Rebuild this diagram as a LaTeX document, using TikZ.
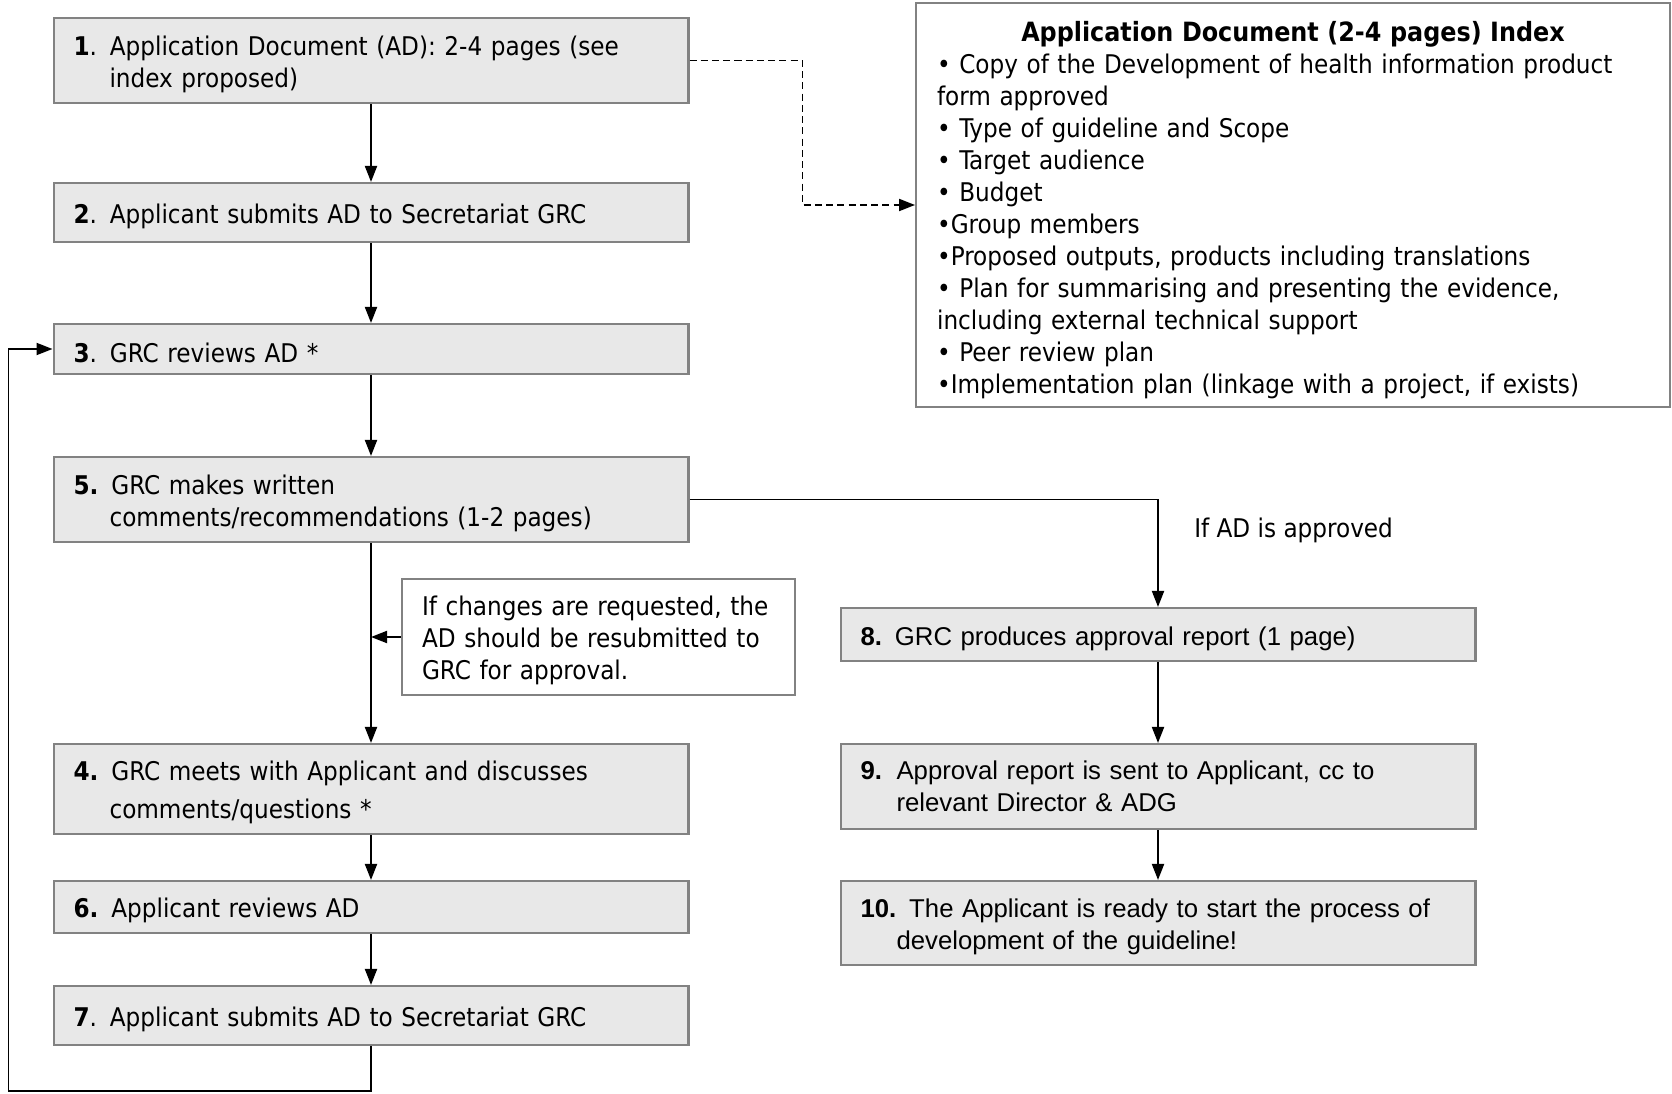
\documentclass[tikz,border=0pt]{standalone}
\usepackage{fontspec}
\setmainfont{DejaVu Sans Condensed}
\newfontfamily\arialfont{Liberation Sans}
\usetikzlibrary{positioning,calc}
\usetikzlibrary{arrows.meta}
\definecolor{BoxGray}{RGB}{232,232,232}
\definecolor{LineGray}{RGB}{130,130,130}
\newcommand{\contline}{\hspace*{0.72cm}}
\newcommand{\boxfont}{\fontsize{14.65}{18.2}\selectfont}
\newcommand{\lift}[1]{\rule{0pt}{#1}}
\tikzset{
  boxbase/.style={draw=LineGray,fill=BoxGray,line width=1.2pt,inner xsep=0.4cm,inner ysep=0pt,
    minimum width=12.7cm,text width=11.9cm,align=left,font=\boxfont},
  box/.style={boxbase,execute at begin node={\lift{15.2pt}}},
  rbox/.style={box,font=\arialfont\boxfont},
  rflat/.style={boxbase,font=\arialfont\boxfont},
  note/.style={draw=LineGray,fill=white,line width=1.2pt,inner xsep=0.4cm,inner ysep=0pt,
    minimum width=7.86cm,text width=7.06cm,minimum height=2.32cm,align=left,font=\boxfont,
    execute at begin node={\lift{14.6pt}}},
  idx/.style={draw=LineGray,fill=white,line width=1.2pt,inner xsep=0.42cm,inner ysep=0pt,
    minimum width=15.08cm,text width=14.24cm,minimum height=8.08cm,align=left,font=\boxfont},
}
\tikzset{edge/.style={draw=black,line width=1.1pt,-{Triangle[length=0.32cm,width=0.24cm]}},
  link/.style={edge,dash pattern=on 4pt off 2.4pt},lbl/.style={font=\boxfont,inner sep=0pt}}

\begin{document}
\begin{tikzpicture}[x=0.02cm,y=-0.02cm]
\useasboundingbox (0,0) rectangle (1672,1094);
% left column
\node[box,minimum height=1.7cm] (b1) at (371,60.5) {\textbf{1}. Application Document (AD): 2-4 pages (see\\\contline index proposed)};
\node[box,minimum height=1.18cm] (b2) at (371,212.5) {\textbf{2}. Applicant submits AD to Secretariat GRC};
\node[box,minimum height=1.0cm] (b3) at (371,349) {\textbf{3}. GRC reviews AD *};
\node[box,minimum height=1.7cm] (b5) at (371,499.5) {\textbf{5.} GRC makes written\\\contline comments/recommendations (1-2 pages)};
\node[note] (chg) at (598.5,637) {If changes are requested, the\\AD should be resubmitted to\\GRC for approval.};
\node[box,minimum height=1.8cm] (b4) at (371,789) {\textbf{4.} GRC meets with Applicant and discusses\\[0.12cm]\contline comments/questions *};
\node[box,minimum height=1.04cm] (b6) at (371,907) {\textbf{6.} Applicant reviews AD};
\node[box,minimum height=1.18cm] (b7) at (371,1015.5) {\textbf{7}. Applicant submits AD to Secretariat GRC};
% right column
\node[idx] (idx) at (1293,205) {\centering{\fontsize{15.1}{18.2}\selectfont\lift{17.5pt}\textbf{Application Document (2-4 pages) Index}}\par
\raggedright
\textbullet\ Copy of the Development of health information product\\
form approved\\
\textbullet\ Type of guideline and Scope\\
\textbullet\ Target audience\\
\textbullet\ Budget\\
\textbullet Group members\\
\textbullet Proposed outputs, products including translations\\
\textbullet\ Plan for summarising and presenting the evidence,\\
including external technical support\\
\textbullet\ Peer review plan\\
\textbullet Implementation plan (linkage with a project, if exists)};
\node[rbox,minimum height=1.06cm] (b8) at (1158,634.5) {\textbf{8.} GRC produces approval report (1 page)};
\node[rflat,minimum height=1.7cm] (b9) at (1158,786.5) {\makebox[0.72cm][l]{\textbf{9.}}Approval report is sent to Applicant, cc to\\\contline relevant Director \& ADG};
\node[rbox,minimum height=1.68cm] (b10) at (1158,923) {\textbf{10.} The Applicant is ready to start the process of\\\contline development of the guideline!};
\node[lbl,anchor=west] (ok) at (1194,530) {If AD is approved};
\coordinate (loop) at (8.5,1091);
% connectors
\draw[edge] (b1) -- (b2);
\draw[edge] (b2) -- (b3);
\draw[edge] (b3) -- (b5);
\draw[edge] (b5) -- (b4);
\draw[edge] (b4) -- (b6);
\draw[edge] (b6) -- (b7);
\draw[edge] (b7.south) |- (loop) |- (b3.west);
\draw[edge] (chg.west) -- (chg.west -| b5.south);
\draw[edge] (b5.east) -| (b8.north);
\draw[edge] (b8) -- (b9);
\draw[edge] (b9) -- (b10);
\draw[link] (b1.east) -- ++(113,0) |- (idx.west);
\end{tikzpicture}
\end{document}
